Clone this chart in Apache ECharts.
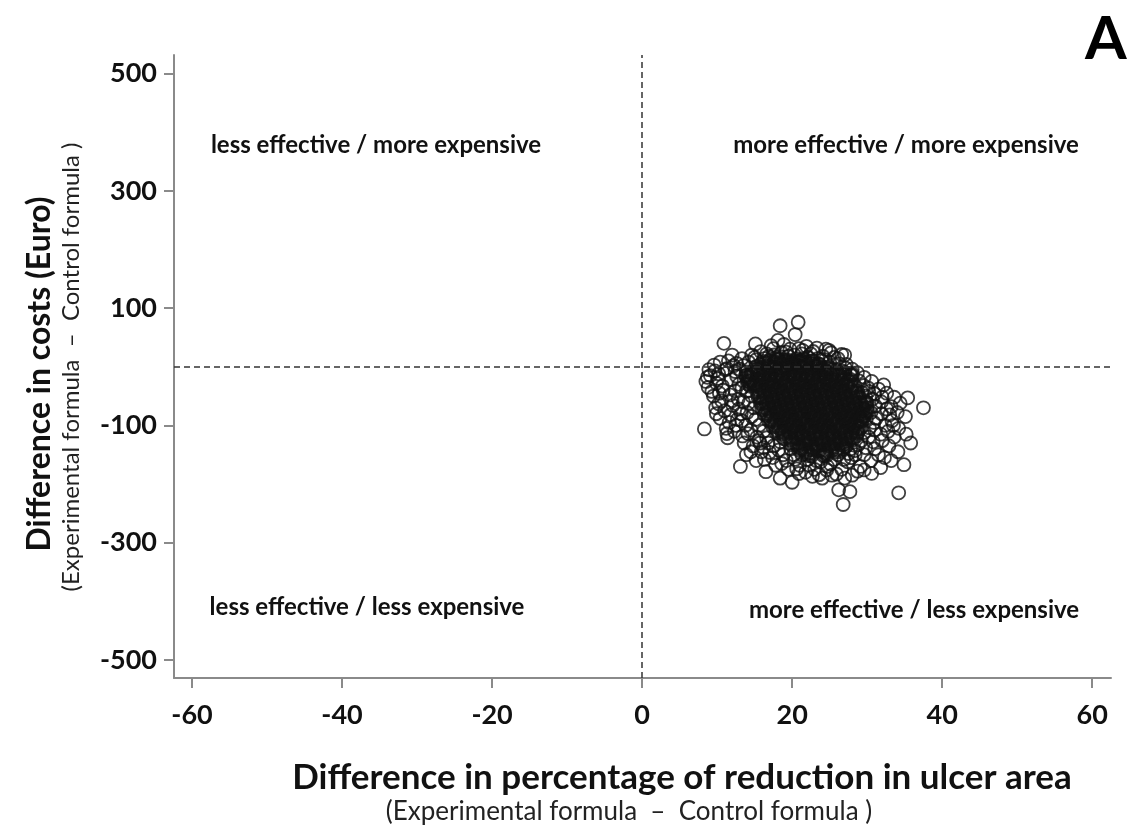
<!DOCTYPE html>
<html>
<head>
<meta charset="utf-8">
<script src="https://cdn.jsdelivr.net/npm/echarts@6/dist/echarts.min.js"></script>
<style>
  html, body { margin: 0; padding: 0; background: #fff; }
  #plane { width: 1129px; height: 826px; }
</style>
</head>
<body>
<div id="plane"></div>
<script>
// tick labels
var xTicks = [-60, -40, -20, 0, 20, 40, 60];
var yTicks = [-500, -300, -100, 100, 300, 500];

// bootstrap replicates: [effect difference, cost difference]
// isolated circles outside the cloud
var outliers = [
  [10.9, 40], [18.4, 70], [20.8, 76], [20.4, 55], [18.1, 45], [15.1, 39],
  [24.5, 30], [27.0, 20], [8.5, -25], [8.3, -106], [11.3, -114],
  [13.1, -170], [16.5, -179], [18.4, -190], [20.0, -197], [26.2, -210],
  [27.7, -213], [26.8, -235], [34.2, -215], [34.9, -167], [35.8, -130],
  [37.5, -70], [35.4, -53], [32.2, -31], [29.6, -176], [22.7, -187], [24.0, -190]
];

// circles around the edge of the cloud, still readable one by one
var edge = [
  // left lobe
  [8.9, -5], [9.6, 3], [10.4, 8], [11.5, 10], [12.6, 6], [9.1, -15], [10.2, -12],
  [11.3, -3], [12.4, -8], [13.5, 2], [8.8, -35], [9.9, -28], [10.8, -40],
  [11.9, -22], [12.9, -30], [13.8, -15], [9.5, -50], [10.6, -58], [11.7, -48],
  [12.8, -55], [13.9, -42], [9.8, -70], [11.0, -75], [12.1, -66], [13.2, -80],
  [14.2, -62], [10.4, -88], [11.6, -95], [12.7, -90], [13.8, -100], [14.6, -85],
  [11.2, -105], [12.3, -110], [13.4, -118], [14.5, -108], [15.3, -120],
  // top
  [13.3, 14], [14.6, 20], [15.8, 26], [16.9, 18], [17.5, 31], [18.6, 24],
  [19.7, 30], [20.3, 20], [21.4, 28], [22.5, 22], [23.3, 32], [24.1, 18],
  [25.2, 24], [26.1, 14], [15.2, 12], [19.0, 12], [22.8, 10], [25.0, 8],
  [27.2, 4], [28.0, -4], [17.2, 36], [21.9, 35], [12.0, 20],
  // right lobe
  [28.7, -10], [29.6, -18], [30.6, -25], [31.5, -38], [30.2, -42], [32.6, -45],
  [33.6, -52], [34.4, -62], [33.2, -68], [31.9, -60], [34.0, -78], [35.1, -85],
  [33.3, -92], [31.9, -80], [32.4, -100], [34.2, -105], [35.2, -115], [33.6, -120],
  [31.8, -115], [32.9, -135], [34.1, -145], [31.0, -140], [32.3, -155],
  [30.5, -160], [33.2, -160], [29.6, -150], [30.8, -128], [30.9, -95],
  [30.0, -70], [29.8, -50],
  // bottom
  [14.8, -135], [15.9, -145], [16.8, -130], [17.4, -155], [18.2, -142],
  [19.2, -160], [20.2, -150], [21.0, -168], [22.1, -158], [23.0, -175],
  [23.8, -162], [24.7, -170], [25.6, -158], [26.6, -175], [27.4, -162],
  [28.4, -150], [29.1, -170], [28.0, -185], [25.3, -185], [21.8, -180],
  [19.5, -175], [17.8, -168], [15.2, -160], [13.9, -150], [30.6, -182], [31.8, -172]
];

// circles between the edge and the black centre
var inner = [
  // left
  [12.2, 2], [13.0, -4], [13.9, -9], [12.6, -16], [14.1, -24], [13.3, -36], [14.4, -33],
  [12.4, -41], [14.6, -50], [13.5, -60], [14.9, -70], [12.9, -72], [14.0, -78],
  [15.1, -90], [13.3, -92], [15.6, -100], [14.1, -114], [16.2, -110], [16.6, -121],
  [15.7, -130], [10.1, -20], [10.7, -33], [9.3, -42], [10.2, -63], [11.8, -82],
  [9.9, -80], [12.5, -100], [11.1, -5], [9.7, -7], [8.7, -18], [10.3, -45], [12.0, -58],
  [11.4, -121],
  // top
  [14.2, 8], [15.0, 16], [16.3, 14], [17.6, 20], [18.1, 13], [19.5, 18], [20.6, 14],
  [21.3, 22], [22.1, 16], [23.4, 14], [24.4, 12], [25.6, 16], [26.3, 5], [27.1, -2],
  [16.6, 22], [19.2, 25], [22.8, 26], [24.9, 28], [20.9, 31], [18.9, 38], [26.6, 21],
  [23.7, 4], [24.3, -6], [25.9, -5], [26.7, -7],
  // right
  [27.9, -14], [28.9, -24], [29.5, -32], [30.1, -36], [29.3, -44], [30.7, -55],
  [29.9, -60], [31.1, -67], [30.5, -78], [29.9, -88], [31.2, -88], [30.3, -104],
  [29.6, -112], [31.0, -108], [30.2, -120], [29.2, -126], [28.8, -133], [29.8, -138],
  [28.4, -143], [32.0, -126], [32.8, -110], [33.0, -82], [32.6, -72], [32.0, -52],
  [31.0, -46], [33.5, -100], [31.5, -150], [27.9, -155], [28.6, -118],
  // bottom
  [16.2, -138], [17.5, -135], [18.4, -128], [17.0, -146], [18.8, -150], [19.8, -140],
  [20.4, -158], [21.3, -150], [22.6, -152], [23.2, -160], [24.2, -152], [25.1, -166],
  [26.1, -150], [26.9, -158], [27.8, -140], [27.5, -148], [26.8, -140], [24.6, -176],
  [22.3, -168], [20.6, -174], [18.6, -165], [16.3, -158], [14.5, -145], [13.6, -130],
  [15.6, -126], [20.9, -182], [27.0, -190], [28.7, -178], [25.9, -183], [23.6, -184]
];

// dense centre of the cloud, where the circles merge into black
var core = [
  [16.2, 7], [17.0, 9], [17.7, 6], [18.6, 8], [19.3, 10], [20.1, 7], [21.0, 9], [21.8, 6], [22.6, 8],
  [18.0, 14], [21.5, 12], [20.0, 3], [23.5, 3],
  [15.3, -1], [16.0, -3], [16.9, 0], [17.6, -2], [18.5, -4], [19.2, -1], [20.0, -3], [20.9, 0],
  [21.7, -2], [22.5, -4], [23.3, -1], [24.1, -3], [24.9, -2],
  [14.7, -11], [15.5, -13], [16.3, -10], [17.0, -12], [17.9, -14], [18.7, -11], [19.6, -13],
  [20.4, -10], [21.2, -12], [22.0, -14], [22.9, -11], [23.7, -13], [24.5, -10], [25.3, -12],
  [26.1, -14], [26.9, -11], [14.0, -16], [27.9, -13],
  [14.5, -21], [15.4, -23], [16.1, -20], [17.0, -22], [17.8, -24], [18.6, -21], [19.4, -23],
  [20.3, -20], [21.1, -22], [21.9, -24], [22.7, -21], [23.6, -23], [24.4, -20], [25.2, -22],
  [26.0, -24], [26.8, -21], [27.7, -23], [14.2, -28],
  [15.0, -31], [15.8, -33], [16.6, -30], [17.4, -32], [18.3, -34], [19.1, -31], [19.9, -33],
  [20.7, -30], [21.5, -32], [22.4, -34], [23.2, -31], [24.0, -33], [24.8, -30], [25.7, -32],
  [26.5, -34], [27.3, -31], [28.2, -33],
  [15.4, -41], [16.2, -43], [17.0, -40], [17.9, -42], [18.7, -44], [19.5, -41], [20.3, -43],
  [21.2, -40], [22.0, -42], [22.8, -44], [23.6, -41], [24.5, -43], [25.3, -40], [26.1, -42],
  [26.9, -44], [27.8, -41], [28.6, -43],
  [15.6, -51], [16.4, -53], [17.3, -50], [18.1, -52], [18.9, -54], [19.7, -51], [20.6, -53],
  [21.4, -50], [22.2, -52], [23.0, -54], [23.9, -51], [24.7, -53], [25.5, -50], [26.3, -52],
  [27.2, -54], [28.0, -51], [28.8, -53],
  [15.9, -61], [16.7, -63], [17.5, -60], [18.4, -62], [19.2, -64], [20.0, -61], [20.8, -63],
  [21.7, -60], [22.5, -62], [23.3, -64], [24.1, -61], [25.0, -63], [25.8, -60], [26.6, -62],
  [27.4, -64], [28.3, -61], [29.1, -63], [29.8, -62],
  [16.1, -71], [16.9, -73], [17.8, -70], [18.6, -72], [19.4, -74], [20.2, -71], [21.1, -73],
  [21.9, -70], [22.7, -72], [23.5, -74], [24.4, -71], [25.2, -73], [26.0, -70], [26.8, -72],
  [27.7, -74], [28.5, -71], [29.3, -73], [29.9, -76],
  [16.5, -81], [17.3, -83], [18.1, -80], [19.0, -82], [19.8, -84], [20.6, -81], [21.4, -83],
  [22.3, -80], [23.1, -82], [23.9, -84], [24.7, -81], [25.6, -83], [26.4, -80], [27.2, -82],
  [28.0, -84], [28.9, -81], [29.5, -83],
  [17.0, -91], [17.8, -93], [18.6, -90], [19.5, -92], [20.3, -94], [21.1, -91], [21.9, -93],
  [22.8, -90], [23.6, -92], [24.4, -94], [25.2, -91], [26.1, -93], [26.9, -90], [27.7, -92],
  [28.5, -94], [29.2, -91],
  [17.5, -101], [18.3, -103], [19.1, -100], [20.0, -102], [20.8, -104], [21.6, -101],
  [22.4, -103], [23.3, -100], [24.1, -102], [24.9, -104], [25.7, -101], [26.6, -103],
  [27.4, -100], [28.2, -102], [29.0, -104],
  [18.0, -111], [18.8, -113], [19.7, -110], [20.5, -112], [21.3, -114], [22.1, -111],
  [23.0, -113], [23.8, -110], [24.6, -112], [25.4, -114], [26.3, -111], [27.1, -113],
  [27.9, -110], [28.6, -112],
  [19.0, -121], [19.8, -123], [20.6, -120], [21.5, -122], [22.3, -124], [23.1, -121],
  [23.9, -123], [24.8, -120], [25.6, -122], [26.4, -124], [27.2, -121], [28.0, -123],
  [20.0, -131], [20.8, -133], [21.7, -130], [22.5, -132], [23.3, -134], [24.1, -131],
  [25.0, -133], [25.8, -130], [26.6, -132], [27.1, -134],
  [21.0, -141], [21.8, -143], [22.7, -140], [23.5, -142], [24.3, -144], [25.2, -141], [26.0, -143],
  [22.3, -150], [24.5, -150]
];

var FONT = 'Lato';
var INK = '#111';
var AXIS = '#8a8a8a';

var chart = echarts.init(document.getElementById('plane'));

function ring(width) {
  return {
    color: 'rgba(0,0,0,0)',
    borderColor: INK,
    borderWidth: width
  };
}

function cloud(name, data, width) {
  return {
    name: name,
    type: 'scatter',
    symbol: 'circle',
    symbolSize: 13,
    data: data,
    itemStyle: ring(width),
    silent: true
  };
}

var coreSeries = cloud('core', core, 4.2);
coreSeries.markLine = {
  silent: true,
  symbol: 'none',
  label: { show: false },
  lineStyle: { color: '#333', width: 1.5, type: [6, 4] },
  data: [{ xAxis: 0 }, { yAxis: 0 }]
};

chart.setOption({
  animation: false,
  backgroundColor: '#fff',
  grid: { left: 174, right: 18, top: 55, bottom: 148 },
  xAxis: {
    type: 'value',
    min: -62.4,
    max: 62.5,
    axisLine: { onZero: false, lineStyle: { color: AXIS, width: 2 } },
    axisTick: { show: true, customValues: xTicks, length: 10, lineStyle: { color: AXIS, width: 2 } },
    axisLabel: {
      customValues: xTicks,
      margin: 24,
      color: INK,
      fontFamily: FONT,
      fontWeight: 'bold',
      fontSize: 27
    },
    splitLine: { show: false }
  },
  yAxis: {
    type: 'value',
    min: -531,
    max: 532,
    axisLine: { show: true, onZero: false, lineStyle: { color: AXIS, width: 2 } },
    axisTick: { show: true, customValues: yTicks, length: 10, lineStyle: { color: AXIS, width: 2 } },
    axisLabel: {
      customValues: yTicks,
      margin: 17,
      color: INK,
      fontFamily: FONT,
      fontWeight: 'bold',
      fontSize: 27
    },
    splitLine: { show: false }
  },
  graphic: [
    { type: 'text', left: 1085, top: 10, style: { text: 'A', fill: '#000', font: 'bold 60px Lato' } },
    { type: 'text', x: 376, y: 145, style: { text: 'less effective / more expensive', fill: INK, font: 'bold 24px Lato', align: 'center', verticalAlign: 'middle' } },
    { type: 'text', x: 906, y: 145, style: { text: 'more effective / more expensive', fill: INK, font: 'bold 24px Lato', align: 'center', verticalAlign: 'middle' } },
    { type: 'text', x: 367, y: 607, style: { text: 'less effective / less expensive', fill: INK, font: 'bold 24px Lato', align: 'center', verticalAlign: 'middle' } },
    { type: 'text', x: 914, y: 610, style: { text: 'more effective / less expensive', fill: INK, font: 'bold 24px Lato', align: 'center', verticalAlign: 'middle' } },
    { type: 'text', x: 682, y: 778, style: { text: 'Difference in percentage of reduction in ulcer area', fill: INK, font: 'bold 35px Lato', align: 'center', verticalAlign: 'middle' } },
    { type: 'text', x: 629, y: 812, style: { text: '(Experimental formula  \u2013  Control formula )', fill: '#222', font: '26px Lato', align: 'center', verticalAlign: 'middle' } },
    { type: 'text', x: 40, y: 374, rotation: Math.PI / 2, style: { text: 'Difference in costs (Euro)', fill: INK, font: 'bold 32px Lato', align: 'center', verticalAlign: 'middle' } },
    { type: 'text', x: 71, y: 367, rotation: Math.PI / 2, style: { text: '(Experimental formula  \u2013  Control formula )', fill: '#222', font: '24px Lato', align: 'center', verticalAlign: 'middle' } }
  ],
  series: [
    coreSeries,
    cloud('inner', inner, 1.9),
    cloud('edge', edge, 1.8),
    cloud('outliers', outliers, 1.8)
  ]
});
window.onresize = function () {
  chart.resize();
};
</script>
</body>
</html>
